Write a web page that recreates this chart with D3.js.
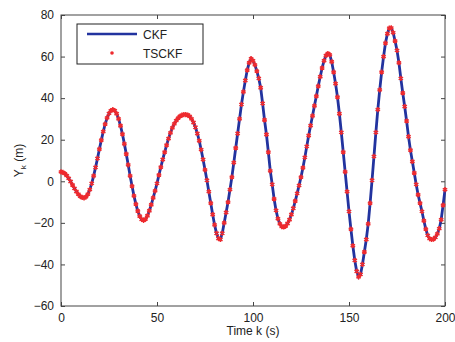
<!DOCTYPE html>
<html>
<head>
<meta charset="utf-8">
<script src="https://cdn.jsdelivr.net/npm/d3@7"></script>
<style>
  body { margin: 0; background: #fff; }
  text { font-family: "Liberation Sans", Arial, sans-serif; }
</style>
</head>
<body>
<script>
// time steps 0..200, response
const timeSteps = d3.range(0, 201);
const yValues = [
  4.5, 4.3, 3.7, 2.7, 1.4, -0.1, -1.8, -3.4, -4.9, -6.2,
  -7.2, -7.8, -8.0, -7.5, -6.2, -4.0, -1.0, 2.6, 6.7, 11.0,
  15.5, 19.8, 23.9, 27.5, 30.5, 32.7, 34.0, 34.5, 34.0, 32.5,
  30.0, 26.7, 22.7, 18.0, 13.1, 7.9, 2.6, -2.3, -7.0, -11.0,
  -14.3, -16.8, -18.3, -18.8, -18.2, -16.6, -14.2, -11.3, -8.0, -4.6,
  -1.0, 3.0, 6.8, 10.5, 14.0, 17.4, 20.5, 23.3, 25.7, 27.6,
  29.2, 30.4, 31.3, 31.8, 32.1, 32.1, 31.9, 31.2, 30.0, 28.3,
  26.0, 23.0, 19.5, 15.2, 10.5, 5.5, 0.5, -5.0, -10.5, -16.0,
  -21.0, -25.0, -27.5, -28.0, -25.0, -20.0, -15.0, -10.0, -4.0, 2.0,
  9.0, 16.0, 23.0, 30.0, 37.0, 43.0, 48.5, 53.5, 57.0, 59.0,
  58.0, 56.0, 53.0, 49.5, 45.0, 37.5, 29.5, 22.5, 14.0, 5.0,
  -1.5, -8.5, -14.0, -18.0, -20.5, -21.8, -22.0, -21.5, -20.3, -18.5,
  -16.0, -13.0, -9.5, -5.8, -2.0, 2.0, 6.5, 11.5, 16.8, 22.0,
  26.8, 31.5, 36.3, 41.0, 45.8, 50.3, 54.5, 58.0, 60.5, 61.5,
  60.8, 57.5, 52.5, 47.0, 40.5, 32.5, 23.5, 14.0, 4.5, -5.0,
  -14.5, -23.0, -31.0, -38.0, -43.3, -46.0, -44.8, -40.0, -34.0, -28.0,
  -20.5, -10.5, 0.5, 12.0, 23.5, 34.5, 44.0, 52.5, 60.0, 66.5,
  71.0, 73.7, 73.8, 71.5, 67.5, 63.0, 57.0, 49.5, 42.5, 36.0,
  29.0, 21.5, 15.0, 9.5, 4.0, -1.5, -6.5, -10.5, -14.5, -19.0,
  -23.0, -26.0, -27.6, -28.0, -27.8, -27.0, -25.3, -22.8, -18.5, -11.5,
  -4.0
];
const xTicks = [0, 50, 100, 150, 200];
const yTicks = [-60, -40, -20, 0, 20, 40, 60, 80];
const seriesNames = ['CKF', 'TSCKF'];

const W = 455, H = 342;
const margin = {top: 15, right: 10, bottom: 36, left: 61};
const width = 445 - margin.left;
const height = 306 - margin.top;

const blue = '#22339f';
const red = '#ee2a2e';
const axisCol = '#444';

const svg = d3.select('body').append('svg')
  .attr('width', W)
  .attr('height', H);

const g = svg.append('g')
  .attr('transform', `translate(${margin.left}, ${margin.top})`);

const x = d3.scaleLinear().domain([0, 200]).range([0, width]);
const y = d3.scaleLinear().domain([-60, 80]).range([height, 0]);

// box + ticks on all four sides, MATLAB style (ticks inward)
function styleAxis(sel) {
  sel.select('.domain').remove();
  sel.selectAll('line').attr('stroke', axisCol);
  sel.selectAll('text')
    .attr('fill', '#222')
    .attr('font-size', 12);
}

g.append('g')
  .attr('transform', `translate(0, ${height})`)
  .call(d3.axisBottom(x).tickValues(xTicks).tickSize(-4).tickPadding(7))
  .call(styleAxis);

g.append('g')
  .call(d3.axisTop(x).tickValues(xTicks).tickSize(-4).tickFormat(''))
  .call(styleAxis);

g.append('g')
  .call(d3.axisLeft(y).tickValues(yTicks).tickSize(-4).tickPadding(7))
  .call(styleAxis);

g.append('g')
  .attr('transform', `translate(${width}, 0)`)
  .call(d3.axisRight(y).tickValues(yTicks).tickSize(-4).tickFormat(''))
  .call(styleAxis);

g.append('rect')
  .attr('width', width)
  .attr('height', height)
  .attr('fill', 'none')
  .attr('stroke', axisCol)
  .attr('stroke-width', 1);

const pts = timeSteps.map((t, i) => ({t: t, v: yValues[i]}));

// CKF line
const line = d3.line()
  .x(d => x(d.t))
  .y(d => y(d.v));

g.append('path')
  .datum(pts)
  .attr('d', line)
  .attr('fill', 'none')
  .attr('stroke', blue)
  .attr('stroke-width', 2.8);

// TSCKF markers
const star = d3.symbol().type(d3.symbolAsterisk).size(18);
g.selectAll('path.mk')
  .data(pts)
  .enter()
  .append('path')
  .attr('class', 'mk')
  .attr('transform', d => `translate(${x(d.t)}, ${y(d.v)})`)
  .attr('d', star)
  .attr('fill', 'none')
  .attr('stroke', red)
  .attr('stroke-width', 1.5);

// legend
const lg = svg.append('g').attr('transform', 'translate(77, 24)');
lg.append('rect')
  .attr('width', 126)
  .attr('height', 40)
  .attr('fill', '#fff')
  .attr('stroke', '#222')
  .attr('stroke-width', 1);
lg.append('line')
  .attr('x1', 10).attr('x2', 60)
  .attr('y1', 10).attr('y2', 10)
  .attr('stroke', blue)
  .attr('stroke-width', 2.6);
lg.append('circle')
  .attr('cx', 35).attr('cy', 29)
  .attr('r', 1.8)
  .attr('fill', red);
lg.selectAll('text.lab')
  .data(seriesNames)
  .enter()
  .append('text')
  .attr('class', 'lab')
  .attr('x', 66)
  .attr('y', (d, i) => 14.5 + i * 19.5)
  .attr('font-size', 12)
  .attr('fill', '#222')
  .text(d => d);

// axis labels
svg.append('text')
  .attr('x', margin.left + width / 2)
  .attr('y', 335)
  .attr('text-anchor', 'middle')
  .attr('font-size', 12)
  .attr('fill', '#222')
  .text('Time k (s)');

const yl = svg.append('text')
  .attr('transform', `translate(23, ${margin.top + height / 2}) rotate(-90)`)
  .attr('text-anchor', 'middle')
  .attr('font-size', 12)
  .attr('fill', '#222');
yl.append('tspan').text('Y');
yl.append('tspan').attr('font-size', 8).attr('dy', 3).text('k');
yl.append('tspan').attr('dy', -3).text(' (m)');
</script>
</body>
</html>
